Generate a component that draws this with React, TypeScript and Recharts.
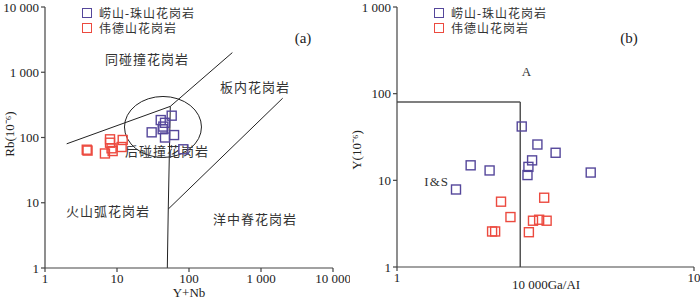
import { ScatterChart, Scatter, XAxis, YAxis, ReferenceLine, ReferenceDot } from "recharts";

const PURPLE = "#55479b";
const RED = "#ec4a3f";
const SERIF = "'Liberation Serif', 'Noto Sans CJK SC', serif";
const CJK = "'Liberation Serif', 'Noto Sans CJK SC', sans-serif";

// (a) Rb vs Y+Nb
const laoshanYNb = [57.5, 40.5, 46.4, 30.3, 43.1, 44, 62, 46.4, 83.4];
const laoshanRb = [216, 185, 168, 120, 134, 147, 109, 100, 66];
const weideYNb = [3.8, 3.9, 8.0, 8.0, 8.4, 12.0, 11.6, 6.8, 8.7];
const weideRb = [65, 63, 93.8, 83.2, 68.3, 91.6, 71.5, 56.9, 62];

// (b) Y vs 10000Ga/Al
const laoshanGaAl = [2.63, 2.97, 3.42, 2.85, 2.77, 2.75, 4.49, 1.77, 2.05, 1.58];
const laoshanY = [41.8, 25.9, 20.8, 17.0, 14.3, 11.5, 12.3, 14.9, 13.0, 7.84];
const weideGaAl = [3.13, 2.24, 2.41, 2.09, 2.14, 2.87, 3.01, 3.19, 2.78];
const weideY = [6.3, 5.67, 3.77, 2.57, 2.57, 3.42, 3.51, 3.42, 2.52];

const ticksA = [1, 10, 100, 1000, 10000];
const ticksBy = [1, 10, 100, 1000];
const ticksBx = [1, 10];

const zip = (xs: number[], ys: number[]) => xs.map((x, i) => ({ x, y: ys[i] }));

const fmt = (v: number) => String(v).replace(/\B(?=(\d{3})+(?!\d))/g, " ");

const square = (color: string) => (p: any) => (
  <rect x={p.cx - 4.5} y={p.cy - 4.5} width={9} height={9} fill="none" stroke={color} strokeWidth={1.4} />
);

const label = (text: string, size = 13) => (p: any) => (
  <text x={p.cx} y={p.cy} textAnchor="middle" dominantBaseline="central" fontSize={size} fill="#333" fontFamily={CJK} letterSpacing={1}>
    {text}
  </text>
);

const tickStyle = { fontSize: 13, fill: "#222", fontFamily: SERIF };
const axisLine = { stroke: "#444", strokeWidth: 1.2 };

function Legend({ left }: { left: number }) {
  const row = (color: string, text: string, top: number) => (
    <div style={{ position: "absolute", left, top, display: "flex", alignItems: "center", fontFamily: CJK, fontSize: 12, color: "#333", letterSpacing: 1 }}>
      <div style={{ width: 8, height: 8, border: `1.4px solid ${color}`, marginRight: 7 }} />
      {text}
    </div>
  );
  return (
    <>
      {row(PURPLE, "崂山-珠山花岗岩", 4)}
      {row(RED, "伟德山花岗岩", 19)}
    </>
  );
}

function Overlay({ text, left, top, rotate = false, size = 13 }: { text: string; left: number; top: number; rotate?: boolean; size?: number }) {
  return (
    <div style={{ position: "absolute", left, top, fontFamily: SERIF, fontSize: size, color: "#222", whiteSpace: "nowrap", transform: rotate ? "translate(-50%,-50%) rotate(-90deg)" : "translate(-50%,-50%)" }}>
      {text}
    </div>
  );
}

export default function App() {
  const line = { stroke: "#222", strokeWidth: 1 };
  return (
    <div style={{ position: "absolute", left: 0, top: 0, width: 700, height: 300, background: "#fff", overflow: "hidden" }}>
      <div style={{ position: "absolute", left: 0, top: 0 }}>
        <ScatterChart width={350} height={300} margin={{ top: 7, right: 17, bottom: 0, left: 0 }}>
          <XAxis dataKey="x" type="number" scale="log" domain={[1, 10000]} ticks={ticksA} interval={0} allowDataOverflow tickFormatter={fmt} tick={tickStyle} tickSize={4} tickMargin={2} axisLine={axisLine} tickLine={axisLine} height={32} />
          <YAxis dataKey="y" type="number" scale="log" domain={[1, 10000]} ticks={ticksA} interval={0} allowDataOverflow tickFormatter={fmt} tick={tickStyle} tickSize={4} tickMargin={2} axisLine={axisLine} tickLine={axisLine} width={45} />
          <ReferenceLine segment={[{ x: 2, y: 80 }, { x: 55, y: 300 }]} {...line} />
          <ReferenceLine segment={[{ x: 55, y: 300 }, { x: 400, y: 2000 }]} {...line} />
          <ReferenceLine segment={[{ x: 55, y: 300 }, { x: 51.5, y: 8 }]} {...line} />
          <ReferenceLine segment={[{ x: 51.5, y: 8 }, { x: 50, y: 1 }]} {...line} />
          <ReferenceLine segment={[{ x: 51.5, y: 8 }, { x: 2000, y: 400 }]} {...line} />
          <ReferenceDot x={43.5} y={145} shape={(p: any) => <ellipse cx={p.cx} cy={p.cy} rx={38.5} ry={30.5} fill="none" stroke="#222" strokeWidth={1} />} />
          <ReferenceDot x={26.1} y={1541} shape={label("同碰撞花岗岩")} />
          <ReferenceDot x={826} y={594} shape={label("板内花岗岩")} />
          <ReferenceDot x={49.5} y={62.1} shape={label("后碰撞花岗岩")} />
          <ReferenceDot x={7.5} y={7.47} shape={label("火山弧花岗岩")} />
          <ReferenceDot x={826} y={5.63} shape={label("洋中脊花岗岩")} />
          <Scatter data={zip(weideYNb, weideRb)} shape={square(RED)} isAnimationActive={false} />
          <Scatter data={zip(laoshanYNb, laoshanRb)} shape={square(PURPLE)} isAnimationActive={false} />
        </ScatterChart>
        <Legend left={82} />
        <Overlay text="(a)" left={303} top={38} size={15} />
        <Overlay text="Y+Nb" left={189} top={293} />
        <Overlay text="Rb(10⁻⁶)" left={9} top={134} rotate />
      </div>
      <div style={{ position: "absolute", left: 350, top: 0 }}>
        <ScatterChart width={350} height={300} margin={{ top: 7, right: 6, bottom: 0, left: 0 }} style={{ overflow: "visible" }}>
          <XAxis dataKey="x" type="number" scale="log" domain={[1, 10]} ticks={ticksBx} interval={0} allowDataOverflow tickFormatter={fmt} tick={tickStyle} tickSize={4} tickMargin={2} axisLine={axisLine} tickLine={axisLine} height={33} />
          <YAxis dataKey="y" type="number" scale="log" domain={[1, 1000]} ticks={ticksBy} interval={0} allowDataOverflow tickFormatter={fmt} tick={tickStyle} tickSize={4} tickMargin={2} axisLine={axisLine} tickLine={axisLine} width={47} />
          <ReferenceLine segment={[{ x: 1, y: 80 }, { x: 2.6, y: 80 }]} stroke="#555" strokeWidth={1.5} />
          <ReferenceLine segment={[{ x: 2.6, y: 80 }, { x: 2.6, y: 1 }]} stroke="#555" strokeWidth={1.5} />
          <ReferenceDot x={2.74} y={182} shape={label("A", 13)} />
          <ReferenceDot x={1.36} y={9.75} shape={label("I&S", 13)} />
          <Scatter data={zip(weideGaAl, weideY)} shape={square(RED)} isAnimationActive={false} />
          <Scatter data={zip(laoshanGaAl, laoshanY)} shape={square(PURPLE)} isAnimationActive={false} />
        </ScatterChart>
        <Legend left={84} />
        <Overlay text="(b)" left={279} top={38} size={15} />
        <Overlay text="10 000Ga/AI" left={196} top={285} />
        <Overlay text="Y(10⁻⁶)" left={6} top={150} rotate />
      </div>
    </div>
  );
}
